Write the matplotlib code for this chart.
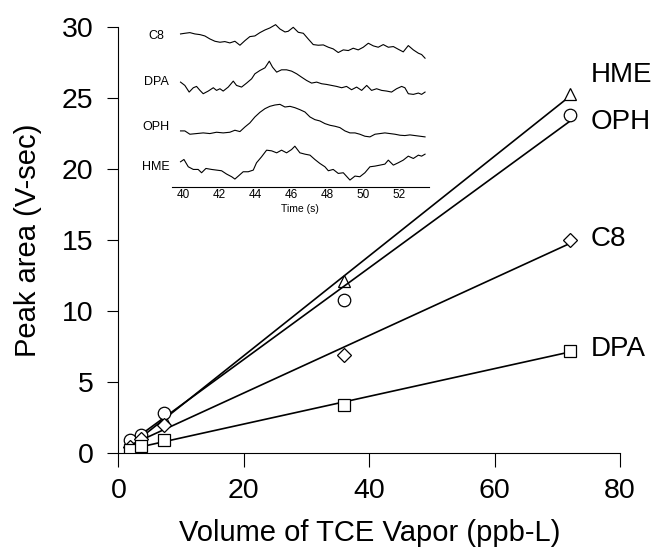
import matplotlib
matplotlib.use("Agg")
import matplotlib.pyplot as plt
import numpy as np

plt.rcParams['font.family'] = ['Liberation Sans', 'DejaVu Sans']

# calibration data: volume of TCE vapour vs peak area
volume = [1.8, 3.6, 7.2, 36, 72]
names = ["HME", "OPH", "C8", "DPA"]
peak_hme = [0.6, 1.1, 2.4, 12.1, 25.3]
peak_oph = [0.9, 1.3, 2.8, 10.8, 23.8]
peak_c8 = [0.4, 1.0, 2.0, 6.9, 15.0]
peak_dpa = [0.2, 0.5, 0.9, 3.4, 7.2]
label_y = [26.6, 23.3, 15.1, 7.3]

# inset chromatograms (time in s, signal in arbitrary units)
c8_t = [39.85, 40.09, 40.37, 40.65, 40.93, 41.20, 41.48, 41.76, 42.04, 42.31,
        42.59, 42.87, 43.15, 43.43, 43.70, 43.98, 44.26, 44.54, 44.81, 45.13,
        45.37, 45.65, 45.83, 46.11, 46.39, 46.67, 46.94, 47.22, 47.50, 47.78,
        48.06, 48.33, 48.61, 48.89, 49.17, 49.44, 49.72, 50.00, 50.28, 50.56,
        50.83, 51.11, 51.39, 51.67, 51.94, 52.22, 52.50, 52.78, 53.06, 53.24,
        53.43]
c8_s = [530, 532, 534, 530, 528, 524, 515, 508, 505, 507,
        503, 508, 496, 510, 522, 524, 534, 542, 548, 558,
        545, 536, 538, 550, 535, 532, 515, 498, 496, 497,
        490, 485, 474, 482, 480, 487, 482, 490, 502, 494,
        490, 498, 490, 492, 484, 476, 495, 482, 472, 468,
        457]
dpa_t = [39.85, 40.09, 40.33, 40.56, 40.74, 40.93, 41.11, 41.39, 41.67, 41.85,
         42.04, 42.22, 42.50, 42.78, 42.96, 43.24, 43.52, 43.80, 43.98, 44.26,
         44.54, 44.78, 44.96, 45.19, 45.46, 45.74, 46.02, 46.30, 46.57, 46.85,
         47.13, 47.41, 47.69, 47.96, 48.24, 48.52, 48.80, 49.07, 49.35, 49.63,
         49.91, 50.19, 50.46, 50.74, 51.02, 51.30, 51.57, 51.85, 52.13, 52.31,
         52.50, 52.78, 53.06, 53.24, 53.43]
dpa_s = [385, 375, 355, 368, 372, 360, 350, 358, 368, 360,
         365, 358, 370, 388, 375, 370, 382, 395, 410, 420,
         428, 448, 430, 415, 422, 422, 418, 410, 400, 390,
         382, 385, 380, 378, 375, 372, 368, 372, 362, 370,
         360, 375, 360, 365, 360, 358, 355, 365, 372, 368,
         350, 348, 352, 348, 355]
oph_t = [39.85, 40.09, 40.37, 40.74, 41.11, 41.48, 41.85, 42.22, 42.59, 42.87,
         43.15, 43.43, 43.70, 43.98, 44.26, 44.54, 44.81, 45.09, 45.37, 45.65,
         45.93, 46.20, 46.48, 46.76, 47.04, 47.31, 47.59, 47.87, 48.15, 48.43,
         48.70, 48.98, 49.26, 49.54, 49.81, 50.09, 50.37, 50.65, 50.93, 51.20,
         51.48, 51.76, 52.04, 52.31, 52.59, 52.87, 53.15, 53.43]
oph_s = [238, 238, 228, 230, 232, 230, 234, 232, 234, 240,
         236, 250, 262, 280, 294, 305, 312, 316, 318, 310,
         312, 308, 302, 295, 280, 272, 268, 260, 255, 252,
         248, 238, 232, 232, 228, 222, 220, 228, 230, 232,
         230, 228, 225, 224, 226, 224, 222, 220]
hme_t = [39.85, 40.04, 40.28, 40.56, 40.83, 41.02, 41.26, 41.57, 41.85, 42.13,
         42.41, 42.69, 42.87, 43.06, 43.33, 43.61, 43.89, 44.07, 44.35, 44.63,
         44.91, 45.19, 45.46, 45.74, 46.02, 46.20, 46.48, 46.76, 47.04, 47.31,
         47.59, 47.87, 48.06, 48.33, 48.61, 48.89, 49.26, 49.54, 49.81, 50.09,
         50.37, 50.65, 50.93, 51.20, 51.39, 51.67, 51.94, 52.22, 52.50, 52.78,
         53.06, 53.24, 53.43]
hme_s = [145, 152, 130, 122, 122, 112, 125, 122, 120, 118,
         108, 100, 93, 102, 115, 115, 120, 142, 160, 180,
         178, 172, 180, 172, 182, 192, 172, 168, 165, 152,
         140, 130, 118, 122, 110, 112, 90, 102, 100, 112,
         130, 132, 135, 138, 150, 135, 142, 150, 162, 155,
         165, 162, 168]
trace_label_y = [525, 385, 250, 128]
inset_ticks = [40, 42, 44, 46, 48, 50, 52]

fig = plt.figure(figsize=(6.56, 5.5), dpi=100)
ax = fig.add_axes([0.1806, 0.1764, 0.7645, 0.7745])

series = [(peak_hme, "^"), (peak_oph, "o"), (peak_c8, "D"), (peak_dpa, "s")]
x = np.array(volume)
for (vals, mk), name, ly in zip(series, names, label_y):
    k, b = np.polyfit(x, vals, 1)
    ax.plot([x[0], x[-1]], [k * x[0] + b, k * x[-1] + b], color="black", lw=1.2)
    ms = 7 if mk == "D" else 9
    ax.plot(x, vals, linestyle="none", marker=mk, ms=ms, mfc="white",
            mec="black", mew=0.9)
    ax.text(75.3, ly, name, fontsize=20, va="center", ha="left")

ax.set_xlim(0, 80)
ax.set_ylim(0, 30)
ax.set_xticks([0, 20, 40, 60, 80])
ax.set_yticks([0, 5, 10, 15, 20, 25, 30])
ax.spines[["top", "right"]].set_visible(False)
ax.tick_params(axis="y", direction="out", length=8, labelsize=20.5, pad=10)
ax.tick_params(axis="x", direction="out", length=10, labelsize=20.5, pad=8)
ax.set_xlabel("Volume of TCE Vapor (ppb-L)", fontsize=21, labelpad=11)
ax.set_ylabel("Peak area (V-sec)", fontsize=21, labelpad=14)

# inset
ins = fig.add_axes([171.7 / 656, 1 - 186.7 / 550, 257.3 / 656, 166.7 / 550])
traces = [(c8_t, c8_s), (dpa_t, dpa_s), (oph_t, oph_s), (hme_t, hme_s)]
inset_names = ["C8", "DPA", "OPH", "HME"]
for (t, s), name, ly in zip(traces, inset_names, trace_label_y):
    ins.plot(t, s, color="black", lw=0.8)
    ins.text(38.5, ly, name, fontsize=9, ha="center", va="center", clip_on=False)
ins.set_xlim(39.36, 53.65)
ins.set_ylim(70, 572)
ins.set_xticks(inset_ticks)
ins.set_yticks([])
ins.patch.set_alpha(0)
for sp in ["top", "right", "left"]:
    ins.spines[sp].set_visible(False)
ins.tick_params(axis="x", length=0, labelsize=8.5, pad=2)
ins.set_xlabel("Time (s)", fontsize=7.5, labelpad=2)

fig.savefig("out.png", dpi=100)
